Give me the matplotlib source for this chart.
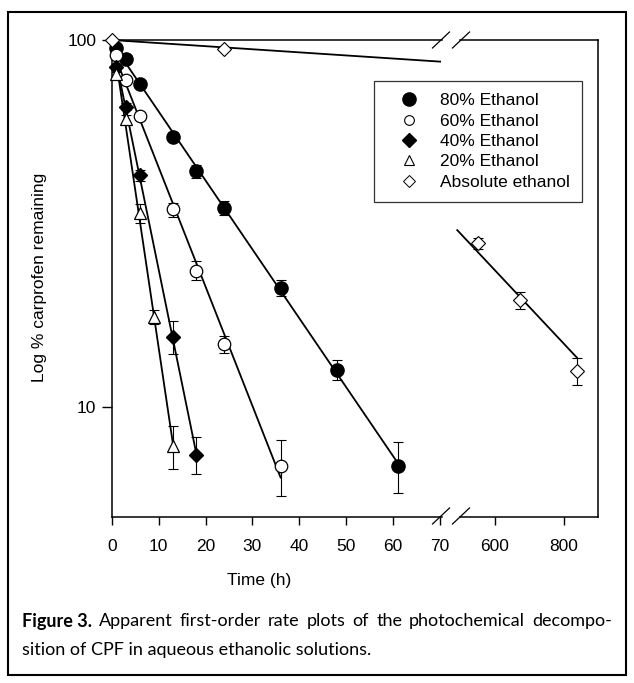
import matplotlib
matplotlib.use('Agg')
import matplotlib.pyplot as plt
from matplotlib.lines import Line2D
from matplotlib.patches import Rectangle
import numpy as np

plt.rcParams['font.family'] = ['Liberation Sans', 'DejaVu Sans']

# values: time (h), % remaining, error
t80 = [1, 3, 6, 13, 18, 24, 36, 48, 61]
v80 = [95, 88.5, 76, 54.5, 43.8, 34.8, 21.1, 12.6, 6.9]
e80 = [1.0, 1.5, 1.5, 1.5, 1.8, 1.5, 1.1, 0.8, 1.1]

t60 = [1, 3, 6, 13, 18, 24, 36]
v60 = [91, 78, 62, 34.5, 23.5, 14.8, 6.9]
e60 = [1.0, 1.5, 1.5, 1.5, 1.4, 0.8, 1.2]

t40 = [1, 3, 6, 13, 18]
v40 = [84.6, 65.8, 42.8, 15.5, 7.4]
e40 = [1.0, 1.5, 1.5, 1.6, 0.85]

t20 = [1, 3, 6, 9, 13]
v20 = [81, 61, 33.7, 17.6, 7.8]
e20 = [1.0, 1.5, 2.0, 0.75, 1.05]

tabs_early = [0, 24]
vabs_early = [100, 94.3]
tabs_late = [553, 674, 839]
vabs_late = [27.9, 19.5, 12.5]
eabs_late = [1.0, 1.0, 1.05]
# regression lines for absolute ethanol
abs_fit1_t = [0, 70]
abs_fit1_v = [100, 87.3]
abs_fit2_t = [492, 839]
abs_fit2_v = [30.3, 13.6]

labels = ['80% Ethanol', '60% Ethanol', '40% Ethanol', '20% Ethanol', 'Absolute ethanol']

W, H = 634, 683
fig = plt.figure(figsize=(W / 100, H / 100), dpi=100)


def box(x0, x1, y0, y1):
    return [x0 / W, 1 - y1 / H, (x1 - x0) / W, (y1 - y0) / H]


axL = fig.add_axes(box(111.7, 442, 40, 517))
axR = fig.add_axes(box(460, 598, 40, 517))

for ax in (axL, axR):
    ax.set_yscale('log')
    ax.set_ylim(5, 100)
    ax.minorticks_off()
    for s in ax.spines.values():
        s.set_linewidth(1.1)
    ax.tick_params(direction='out', length=6, width=1, labelsize=12.5, pad=10)

axL.set_xlim(0, 70.4)
axL.set_xticks(range(0, 71, 10))
axL.set_yticks([10, 100])
axL.set_yticklabels(['10', '100'])
axL.tick_params(axis='y', length=7, pad=4)
axL.spines['right'].set_visible(False)

axR.set_xlim(500, 900)
axR.set_xticks([600, 800])
axR.set_yticks([])
axR.spines['left'].set_visible(False)


def series(ax, t, v, e, **kw):
    ax.errorbar(t, v, yerr=e, fmt='none', ecolor='black', elinewidth=0.8,
                capsize=3.5, capthick=0.8, zorder=2)
    ax.plot(t, v, ls='none', zorder=3, clip_on=False, **kw)
    p = np.polyfit(t, np.log10(v), 1)
    tt = np.array([t[0], t[-1]])
    ax.plot(tt, 10 ** np.polyval(p, tt), color='black', lw=1.3, zorder=1)


series(axL, t80, v80, e80, marker='o', mfc='black', mec='black', ms=9.5)
series(axL, t60, v60, e60, marker='o', mfc='white', mec='black', ms=9, mew=0.9)
series(axL, t40, v40, e40, marker='D', mfc='black', mec='black', ms=7.5)
series(axL, t20, v20, e20, marker='^', mfc='white', mec='black', ms=8.5, mew=0.9)

# absolute ethanol
axL.plot(abs_fit1_t, abs_fit1_v, color='black', lw=1.3, zorder=1, clip_on=False)
axL.plot(tabs_early, vabs_early, ls='none', marker='D', mfc='white', mec='black',
         ms=7.5, mew=0.8, zorder=3, clip_on=False)
axR.plot(abs_fit2_t, abs_fit2_v, color='black', lw=1.3, zorder=1, clip_on=False)
axR.errorbar(tabs_late, vabs_late, yerr=eabs_late, fmt='none', ecolor='black',
             elinewidth=0.8, capsize=3.5, capthick=0.8, zorder=2)
axR.plot(tabs_late, vabs_late, ls='none', marker='D', mfc='white', mec='black',
         ms=7.5, mew=0.8, zorder=3)


# axis break marks
def slash(xc, yc):
    fig.add_artist(Line2D([(xc - 8.5) / W, (xc + 8.5) / W],
                          [1 - (yc + 8) / H, 1 - (yc - 8) / H],
                          color='black', lw=0.9))


for yc in (40, 516):
    slash(441, yc)
    slash(461, yc)

# legend
handles = [
    Line2D([], [], ls='none', marker='o', mfc='black', mec='black', ms=9.5),
    Line2D([], [], ls='none', marker='o', mfc='white', mec='black', ms=7, mew=0.8),
    Line2D([], [], ls='none', marker='D', mfc='black', mec='black', ms=7.5),
    Line2D([], [], ls='none', marker='^', mfc='white', mec='black', ms=6.5, mew=0.8),
    Line2D([], [], ls='none', marker='D', mfc='white', mec='black', ms=6, mew=0.7),
]
leg = fig.legend(handles, labels, loc='upper left', bbox_to_anchor=(374 / W, 1 - 81 / H),
                 fontsize=12.5, frameon=True, fancybox=False, borderpad=0.7,
                 handlelength=2.6, handletextpad=0.5, labelspacing=0.3,
                 borderaxespad=0)
leg.get_frame().set_edgecolor('black')
leg.get_frame().set_linewidth(0.9)

fig.text(40 / W, 1 - 277 / H, 'Log % carprofen remaining', rotation=90,
         ha='center', va='center', fontsize=12.5)
fig.text(259 / W, 1 - 580 / H, 'Time (h)', ha='center', va='center', fontsize=12.5)

# caption, first line justified between x=22 and x=612
cap_font = ['Lato', 'DejaVu Sans']
words = [('Figure 3.', 'bold')] + \
    [(w, 'normal') for w in 'Apparent first-order rate plots of the photochemical decompo-'.split()]
texts = [fig.text(0, 1 - 621 / H, w, fontweight=fw, fontsize=13, family=cap_font, va='center')
         for w, fw in words]
fig.canvas.draw()
r = fig.canvas.get_renderer()
widths = [t.get_window_extent(r).width for t in texts]
gap = (612 - 22 - sum(widths)) / (len(texts) - 1)
x = 22
for t, wd in zip(texts, widths):
    t.set_x(x / W)
    x += wd + gap
fig.text(22 / W, 1 - 650 / H, 'sition of CPF in aqueous ethanolic solutions.',
         fontsize=13, family=cap_font, va='center')

fig.add_artist(Rectangle((8 / W, 1 - 675 / H), 618 / W, 663 / H, transform=fig.transFigure,
                         fill=False, lw=1.5, edgecolor='black'))

fig.savefig('out.png', dpi=100)
